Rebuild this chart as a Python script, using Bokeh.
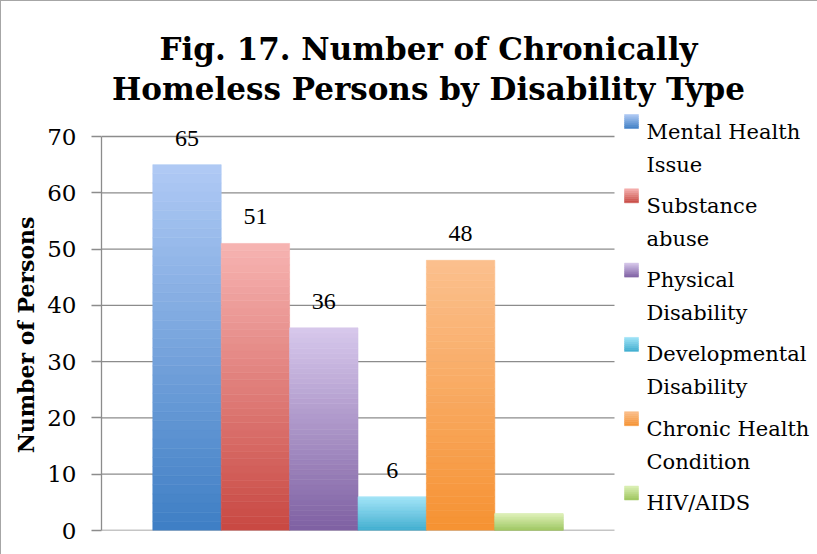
from bokeh.plotting import figure
from bokeh.models import Range1d, LabelSet, ColumnDataSource, FixedTicker
from bokeh.core.properties import value
from bokeh.embed import file_html
from bokeh.resources import INLINE

# ---------------- data ----------------
series = ["Mental Health Issue", "Substance abuse", "Physical Disability",
          "Developmental Disability", "Chronic Health Condition", "HIV/AIDS"]
legend_lines = ["Mental Health\nIssue", "Substance\nabuse", "Physical\nDisability",
                "Developmental\nDisability", "Chronic Health\nCondition", "HIV/AIDS"]
counts = [65, 51, 36, 6, 48, 3]
count_labels = ["65", "51", "36", "6", "48", ""]
y_ticks = [0, 10, 20, 30, 40, 50, 60, 70]
title_lines = ["Fig. 17. Number of Chronically", "Homeless Persons by Disability Type"]
y_title = "Number of Persons"

# ---------------- styles / layout (pixels) ----------------
top_colors = [(176, 202, 245), (247, 180, 178), (215, 200, 236), (160, 228, 248), (251, 192, 142), (222, 241, 184)]
bot_colors = [(62, 126, 196), (200, 72, 66), (126, 96, 162), (62, 172, 206), (246, 146, 50), (158, 198, 96)]
FONT = "DejaVu Serif"
GRID = "#8c8c8c"
W, H = 817, 554
PL, PR, PT, PB = 100, 613, 135, 529   # plot-area edges (canvas px)
GAP = 0.75                              # half of the 150% gap width, in bar widths
N_STRIPS = 40
NCAT = len(series) + 2 * GAP
PXX = (PR - PL) / NCAT
PXY = (PB - PT) / y_ticks[-1]
# the frame spans the whole height; pad the axis title so it is centred on the plot area
LABEL_PAD = "\u00a0" * 18


def dx(px):
    return (px - PL) / PXX


def dy(py):
    return (PB - py) / PXY


def mix(c1, c2, t):
    return "#%02x%02x%02x" % tuple(int(round(a + (b - a) * t)) for a, b in zip(c1, c2))


p = figure(width=W, height=H, output_backend="svg", toolbar_location=None,
           x_range=Range1d(0, dx(W)), y_range=Range1d(0, dy(0)),
           min_border_left=PL, min_border_right=0, min_border_top=0,
           min_border_bottom=H - PB)
p.outline_line_color = None
p.background_fill_color = "white"
p.border_fill_color = "white"
p.styles = {"border-left": "1px solid #a6a6a6", "border-top": "1px solid #a6a6a6"}
p.xaxis.visible = False
p.xgrid.visible = False
p.ygrid.visible = False

# horizontal gridlines limited to the plot area
p.segment(x0=[0] * len(y_ticks), x1=[NCAT] * len(y_ticks), y0=y_ticks, y1=y_ticks,
          line_color=GRID, line_width=1.3)

ax = p.yaxis[0]
ax.ticker = FixedTicker(ticks=y_ticks)
ax.bounds = (y_ticks[0], y_ticks[-1])
ax.axis_line_color = GRID
ax.axis_line_width = 1.3
ax.major_tick_line_color = GRID
ax.major_tick_line_width = 1.3
ax.major_tick_out = 10
ax.major_tick_in = 0
ax.minor_tick_line_color = None
ax.major_label_text_font = FONT
ax.major_label_text_font_size = "23px"
ax.major_label_text_color = "black"
ax.major_label_standoff = 15
ax.axis_label = y_title + LABEL_PAD
ax.axis_label_text_font = FONT
ax.axis_label_text_font_style = "bold"
ax.axis_label_text_font_size = "22px"
ax.axis_label_text_color = "black"
ax.axis_label_standoff = 5

# ---------------- gradient bars ----------------
centers = [GAP + i + 0.5 for i in range(len(series))]
for i, v in enumerate(counts):
    xs, bots, tops, cols = [], [], [], []
    for k in range(N_STRIPS):
        xs.append(centers[i])
        bots.append(v * k / N_STRIPS)
        tops.append(v * (k + 1) / N_STRIPS)
        cols.append(mix(bot_colors[i], top_colors[i], (k + 0.5) / N_STRIPS))
    src = ColumnDataSource(dict(x=xs, b=bots, t=tops, c=cols))
    p.vbar(x="x", bottom="b", top="t", width=1.0, fill_color="c", line_color="c",
           line_width=0.6, source=src)

lab_src = ColumnDataSource(dict(x=centers, y=counts, t=count_labels))
p.add_layout(LabelSet(x="x", y="y", text="t", source=lab_src, text_align="center",
                      text_baseline="alphabetic", y_offset=19, text_font=FONT,
                      text_font_size="24px", text_color="black"))

# ---------------- title ----------------
p.text(x=[dx(427)] * len(title_lines), y=[dy(47 + 40 * j) for j in range(len(title_lines))],
       text=title_lines, text_align="center", text_baseline="alphabetic",
       text_font=value(FONT), text_font_style="bold", text_font_size="31px",
       text_color="black")

# ---------------- legend ----------------
SQ = 14
sq_l, sq_r, sq_t, sq_b, sq_c = [], [], [], [], []
tx, ty, tt = [], [], []
for i, lab in enumerate(legend_lines):
    top = 113 + 74.3 * i
    nb = 7
    for k in range(nb):
        sq_l.append(dx(623))
        sq_r.append(dx(623 + SQ))
        sq_t.append(dy(top + SQ * k / nb))
        sq_b.append(dy(top + SQ * (k + 1) / nb))
        sq_c.append(mix(top_colors[i], bot_colors[i], (k + 0.5) / nb))
    for j, line in enumerate(lab.split("\n")):
        tx.append(dx(645))
        ty.append(dy(top + 17 + 33 * j))
        tt.append(line)
p.quad(left=sq_l, right=sq_r, top=sq_t, bottom=sq_b, fill_color=sq_c, line_color=sq_c,
       line_width=0.5)
p.text(x=tx, y=ty, text=tt, text_align="left", text_baseline="alphabetic",
       text_font=value(FONT), text_font_size="21px", text_color="black")

open("out.html", "w").write(file_html(p, INLINE))
